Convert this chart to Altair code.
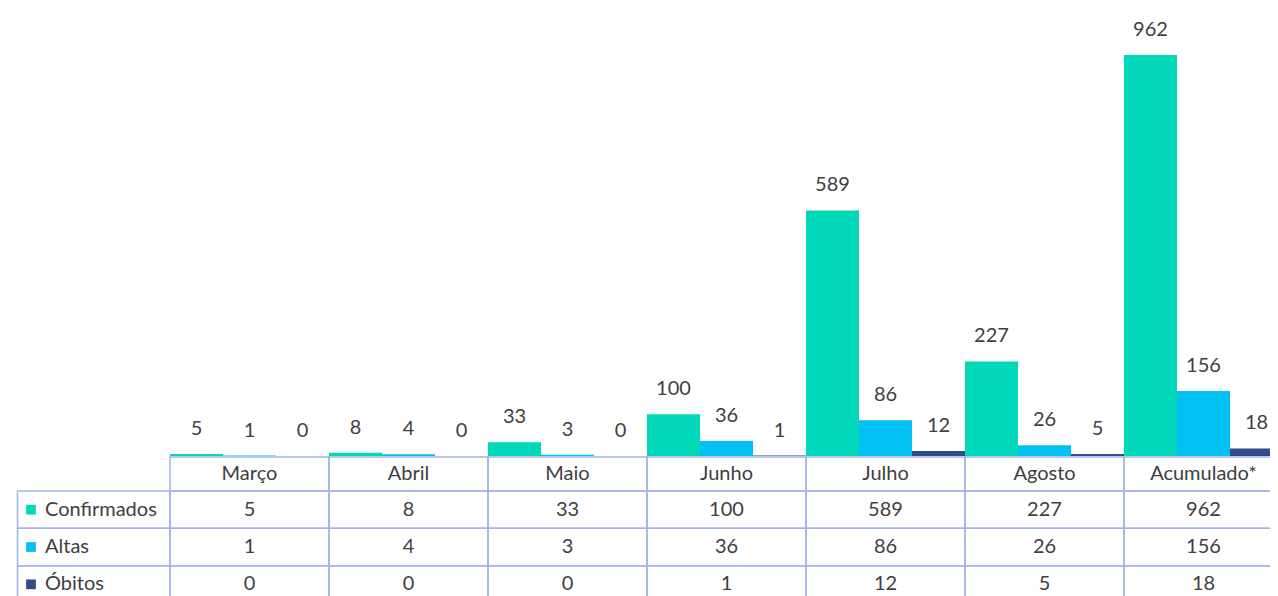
import altair as alt
import pandas as pd

# ---- data ----
categories = ["Março", "Abril", "Maio", "Junho", "Julho", "Agosto", "Acumulado*"]
series = ["Confirmados", "Altas", "Óbitos"]
confirmados = [5, 8, 33, 100, 589, 227, 962]
altas = [1, 4, 3, 36, 86, 26, 156]
obitos = [0, 0, 0, 1, 12, 5, 18]

# ---- style / layout ----
colors = ["#00D8B9", "#00C1F1", "#2F4D89"]
GRID = "#A3B5E6"
TXT = "#404040"
FONT = "Lato"
FS = 20

X_RANGE = [162, 1275]
Y_BAR = [448, 47]
HEADER_RANGE = [449, 483]
ROWS_RANGE = [483, 595]
LABEL_RANGE = [9.5, 162]
LABEL_CENTER = (LABEL_RANGE[0] + LABEL_RANGE[1]) / 2

rows = []
for s, vals in zip(series, [confirmados, altas, obitos]):
    for c, v in zip(categories, vals):
        rows.append({"cat": c, "series": s, "value": v})
df = pd.DataFrame(rows)
hdr = pd.DataFrame({"cat": categories, "row": ["header"] * len(categories)})
lab = pd.DataFrame({"series": series, "col": ["label"] * len(series)})

xcat = alt.X("cat:N", sort=categories,
             scale=alt.Scale(domain=categories, range=X_RANGE, paddingInner=0, paddingOuter=0),
             axis=None)
xoff = alt.XOffset("series:N", sort=series,
                   scale=alt.Scale(domain=series, paddingInner=0, paddingOuter=0))
ybar = alt.Y("value:Q", scale=alt.Scale(domain=[0, 962], range=Y_BAR, nice=False, zero=True),
             axis=None)
color = alt.Color("series:N", scale=alt.Scale(domain=series, range=colors), legend=None)
yhdr = alt.Y("row:N", scale=alt.Scale(domain=["header"], range=HEADER_RANGE,
                                      paddingInner=0, paddingOuter=0), axis=None)
yrow = alt.Y("series:N", sort=series,
             scale=alt.Scale(domain=series, range=ROWS_RANGE, paddingInner=0, paddingOuter=0),
             axis=None)
xlab = alt.X("col:N", scale=alt.Scale(domain=["label"], range=LABEL_RANGE,
                                      paddingInner=0, paddingOuter=0), axis=None)

base = alt.Chart(df)
bars = base.mark_bar().encode(x=xcat, xOffset=xoff, y=ybar, color=color)
bar_labels = base.mark_text(baseline="alphabetic", dy=-19, fontSize=FS, font=FONT,
                            color=TXT).encode(x=xcat, xOffset=xoff, y=ybar, text="value:Q")

hdr_cells = alt.Chart(hdr).mark_rect(fill="transparent", stroke=GRID, strokeWidth=1.5).encode(
    x=xcat, y=yhdr)
hdr_text = alt.Chart(hdr).mark_text(fontSize=FS, font=FONT, color=TXT, baseline="middle").encode(
    x=xcat, y=yhdr, text="cat:N")

cells = base.mark_rect(fill="transparent", stroke=GRID, strokeWidth=1.5).encode(x=xcat, y=yrow)
cell_text = base.mark_text(fontSize=FS, font=FONT, color=TXT, baseline="middle").encode(
    x=xcat, y=yrow, text="value:Q")

lab_cells = alt.Chart(lab).mark_rect(fill="transparent", stroke=GRID, strokeWidth=1.5).encode(
    x=xlab, y=yrow)
lab_sq = alt.Chart(lab).mark_square(size=95, opacity=1, xOffset=23 - LABEL_CENTER).encode(
    x=xlab, y=yrow, color=color)
lab_text = alt.Chart(lab).mark_text(fontSize=FS, font=FONT, color=TXT, align="left",
                                    baseline="middle", dx=37 - LABEL_CENTER).encode(
    x=xlab, y=yrow, text="series:N")

chart = alt.layer(
    bars, bar_labels, hdr_cells, hdr_text, cells, cell_text, lab_cells, lab_sq, lab_text
).resolve_scale(x="independent", y="independent").properties(
    width=1262, height=588, autosize=alt.AutoSizeParams(type="none"), padding=0
).configure_view(stroke=None)

chart.save("out.html", embed_options={"renderer": "svg", "actions": False})
